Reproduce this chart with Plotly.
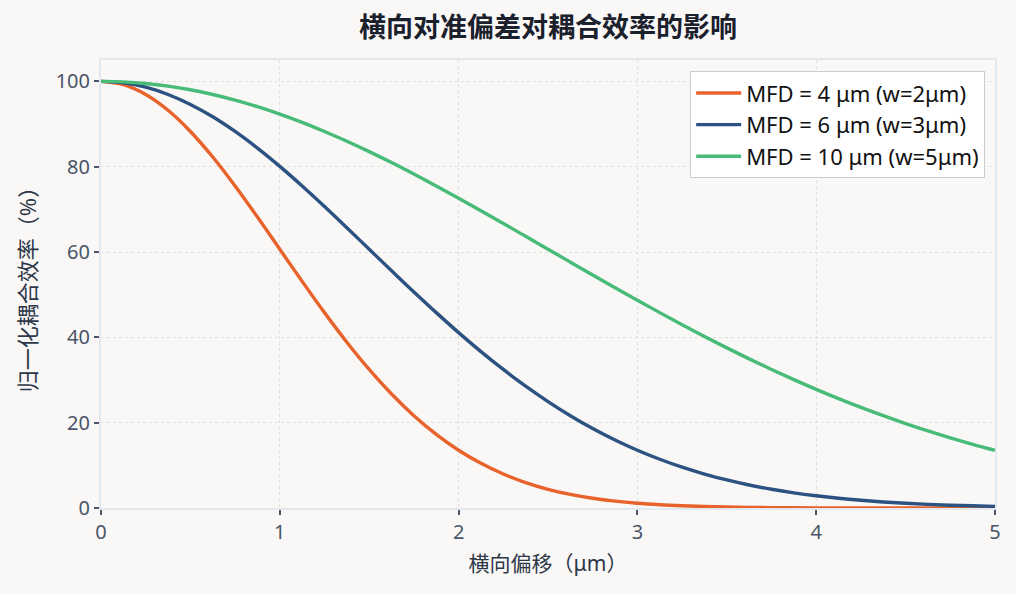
import plotly.graph_objects as go

offset_um = [0, 0.125, 0.25, 0.375, 0.5, 0.625, 0.75, 0.875, 1, 1.125, 1.25, 1.375, 1.5, 1.625, 1.75, 1.875,
             2, 2.125, 2.25, 2.375, 2.5, 2.625, 2.75, 2.875, 3, 3.125, 3.25, 3.375, 3.5, 3.625, 3.75, 3.875,
             4, 4.125, 4.25, 4.375, 4.5, 4.625, 4.75, 4.875, 5]
eff_mfd4 = [100, 99.22, 96.92, 93.21, 88.25, 82.26, 75.48, 68.19, 60.65, 53.11, 45.79, 38.86, 32.47, 26.71, 21.63, 17.24,
            13.53, 10.46, 7.96, 5.96, 4.39, 3.19, 2.28, 1.60, 1.11, 0.76, 0.51, 0.34, 0.22, 0.14, 0.09, 0.055,
            0.03, 0.02, 0.01, 0.007, 0.004, 0.002, 0.001, 0.001, 0.0]
eff_mfd6 = [100, 99.65, 98.62, 96.92, 94.59, 91.69, 88.25, 84.35, 80.07, 75.48, 70.67, 65.70, 60.65, 55.61, 50.63, 45.79,
            41.11, 36.66, 32.47, 28.55, 24.94, 21.63, 18.62, 15.93, 13.53, 11.42, 9.56, 7.96, 6.57, 5.39, 4.39, 3.55,
            2.86, 2.28, 1.81, 1.42, 1.11, 0.86, 0.66, 0.51, 0.39]
eff_mfd10 = [100, 99.88, 99.50, 98.88, 98.02, 96.92, 95.60, 94.06, 92.31, 90.37, 88.25, 85.96, 83.53, 80.96, 78.27, 75.48,
             72.61, 69.68, 66.70, 63.68, 60.65, 57.62, 54.61, 51.62, 48.68, 45.79, 42.96, 40.20, 37.53, 34.95, 32.47, 30.08,
             27.80, 25.63, 23.57, 21.63, 19.79, 18.06, 16.45, 14.94, 13.53]
series_names = ["MFD = 4 μm (w=2μm)", "MFD = 6 μm (w=3μm)", "MFD = 10 μm (w=5μm)"]
colors = ["#e8622c", "#2c5282", "#48bb78"]

font_family = "Noto Sans, Noto Sans CJK SC, sans-serif"
fig = go.Figure()
for name, ys, c in zip(series_names, [eff_mfd4, eff_mfd6, eff_mfd10], colors):
    fig.add_trace(go.Scatter(x=offset_um, y=ys, mode="lines", name=name,
                             line=dict(color=c, width=3.4, shape="spline")))

axis_common = dict(showline=True, linecolor="#e2e8f0", linewidth=2, mirror=True,
                   ticks="outside", ticklen=5, tickwidth=2, tickcolor="#4a5568",
                   showgrid=True, gridcolor="#e0e0e0", griddash="dot", gridwidth=1,
                   zeroline=False, tickfont=dict(size=20, color="#4a5568"))

fig.update_layout(
    width=1016, height=594,
    paper_bgcolor="#f9f8f7", plot_bgcolor="#f9f8f7",
    font=dict(family=font_family, color="#4a5568"),
    margin=dict(l=101, r=21, t=60, b=86),
    title=dict(text="<b>横向对准偏差对耦合效率的影响</b>", xref="paper", x=0.5, xanchor="center", y=0.953,
               yanchor="middle", font=dict(size=27, color="#1a202c", family="Noto Sans CJK SC, sans-serif")),
    xaxis=dict(range=[0, 5], dtick=1,
               title=dict(text="横向偏移（μm）", standoff=12, font=dict(size=21, color="#2d3748")), **axis_common),
    yaxis=dict(range=[0, 105], tickvals=[0, 20, 40, 60, 80, 100],
               title=dict(text="归一化耦合效率（%）", standoff=13, font=dict(size=22, color="#2d3748")), **axis_common),
    legend=dict(x=0.989, y=0.975, xanchor="right", yanchor="top", bgcolor="#ffffff",
                bordercolor="#cccccc", borderwidth=1, font=dict(size=22, color="#111111"),
                tracegroupgap=0, itemwidth=45),
    showlegend=True,
)

fig.write_html("out.html")
